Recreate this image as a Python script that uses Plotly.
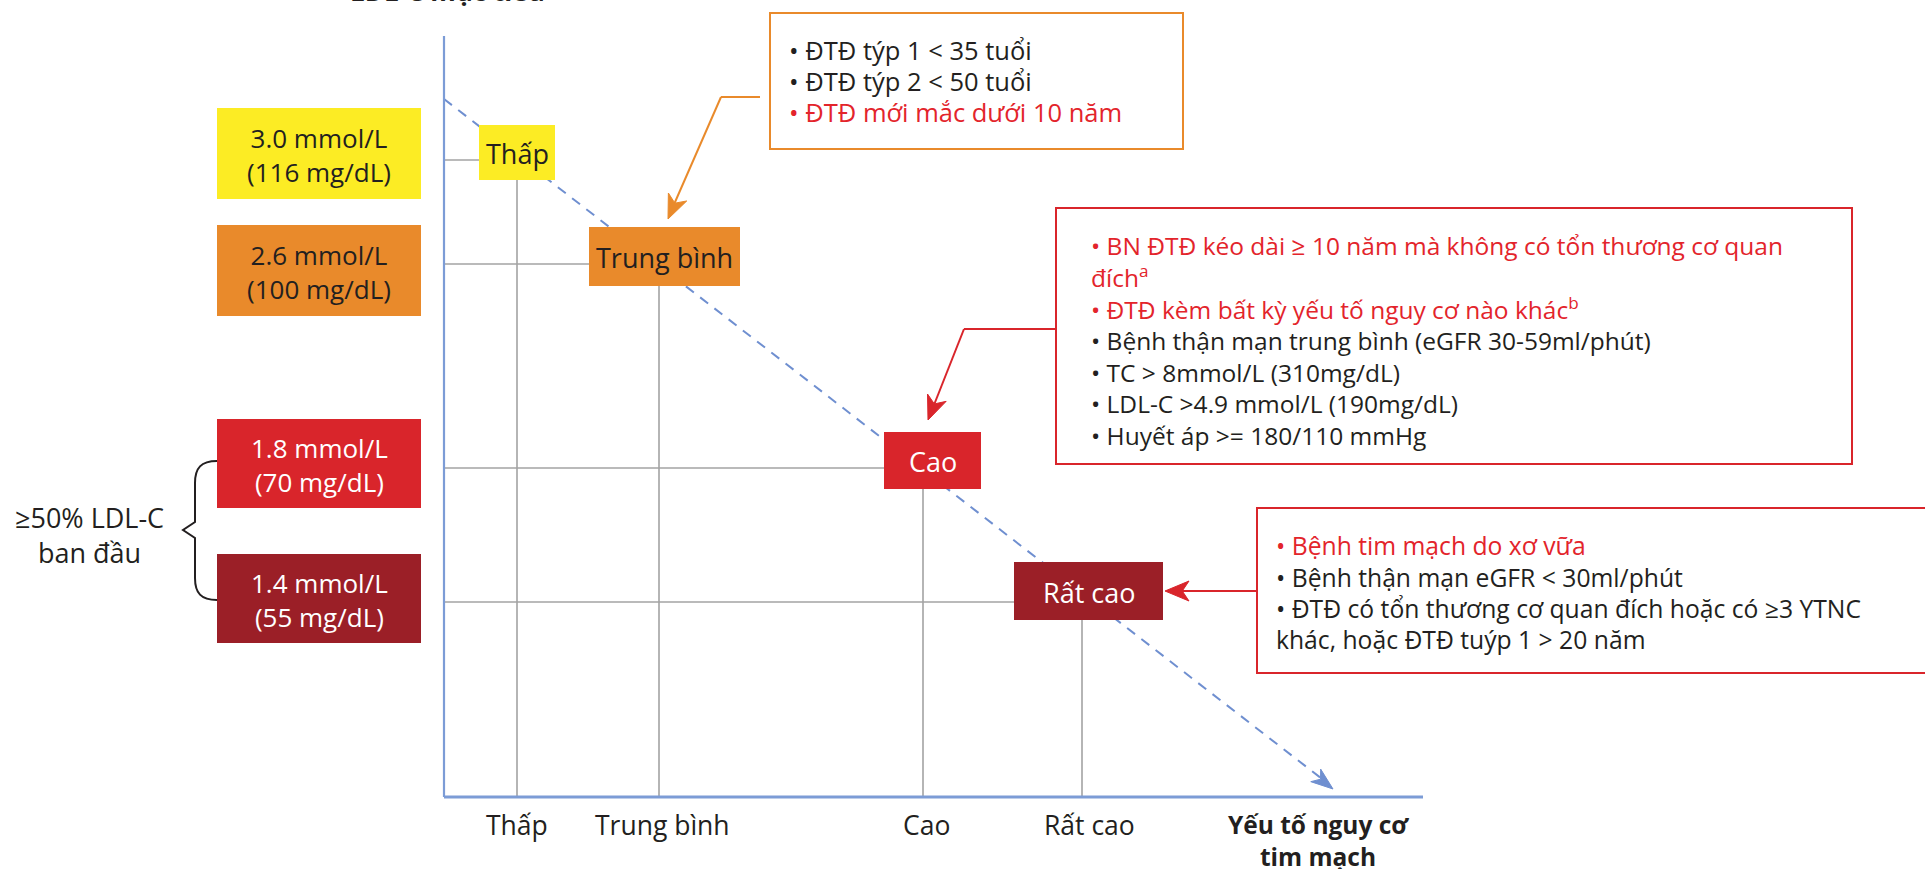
import plotly.graph_objects as go

# ---------------- data ----------------
risk_levels = ["Thấp", "Trung bình", "Cao", "Rất cao"]
ldl_mmol = [3.0, 2.6, 1.8, 1.4]
ldl_mgdl = [116, 100, 70, 55]
axis_title_y = "LDL-C mục tiêu"
axis_title_x = ["Yếu tố nguy cơ", "tim mạch"]
brace_label = ["≥50% LDL-C", "ban đầu"]

box_low_lines = ["• ĐTĐ týp 1 < 35 tuổi", "• ĐTĐ týp 2 < 50 tuổi", "• ĐTĐ mới mắc dưới 10 năm"]
box_low_red = [False, False, True]
box_high_lines = ["• BN ĐTĐ kéo dài ≥ 10 năm mà không có tổn thương cơ quan",
                  "đích<sup>a</sup>",
                  "• ĐTĐ kèm bất kỳ yếu tố nguy cơ nào khác<sup>b</sup>",
                  "• Bệnh thận mạn trung bình (eGFR 30-59ml/phút)",
                  "• TC > 8mmol/L (310mg/dL)",
                  "• LDL-C >4.9 mmol/L (190mg/dL)",
                  "• Huyết áp >= 180/110 mmHg"]
box_high_red = [True, True, True, False, False, False, False]
box_vhigh_lines = ["• Bệnh tim mạch do xơ vữa",
                   "• Bệnh thận mạn eGFR < 30ml/phút",
                   "• ĐTĐ có tổn thương cơ quan đích hoặc có ≥3 YTNC",
                   "khác, hoặc ĐTĐ tuýp 1 > 20 năm"]
box_vhigh_red = [True, False, False, False]

# ---------------- styles / layout ----------------
W, H = 1925, 869
FONT = "Open Sans"
DARK = "#231F20"
REDTXT = "#E3242B"
level_colors = ["#FCEC24", "#E98A2B", "#D9252B", "#9B1F27"]
level_text_colors = [DARK, DARK, "white", "white"]
AXIS_COL = "#7C9CD6"
GRID_COL = "#A3A3A3"
ORANGE = "#E98A2B"
RED = "#D9252B"

Y_AXIS_X, AXIS_TOP, X_AXIS_Y, X_AXIS_END = 444, 36, 797, 1423
risk_x = [517, 659, 923, 1082]          # vertical guide positions
level_y = [160, 264, 468, 602]          # horizontal guide positions
cat_boxes = [(479, 555, 125, 180), (589, 740, 227, 286), (884, 981, 432, 489), (1014, 1163, 562, 620)]
left_box_x = (217, 421)
left_box_y = [(108, 199), (225, 316), (419, 508), (554, 643)]
tick_label_x = [517, 662, 926, 1089]

shapes = []
ann = []


def line(x0, y0, x1, y1, color, width, dash=None):
    d = dict(type="line", xref="x", yref="y", x0=x0, y0=y0, x1=x1, y1=y1,
             line=dict(color=color, width=width))
    if dash:
        d["line"]["dash"] = dash
    shapes.append(d)


def rect(x0, x1, y0, y1, fill, border=None, bw=0):
    shapes.append(dict(type="rect", xref="x", yref="y", x0=x0, x1=x1, y0=y0, y1=y1,
                       fillcolor=fill, line=dict(color=border or fill, width=bw if border else 0)))


def arrowhead(fx, fy, tx, ty, color, L=20, Wd=8):
    dx, dy = tx - fx, ty - fy
    n = (dx * dx + dy * dy) ** 0.5
    ux, uy = dx / n, dy / n
    px, py = -uy, ux
    bx, by = tx - ux * L, ty - uy * L
    nx, ny = tx - ux * L * 0.72, ty - uy * L * 0.72
    path = (f"M {tx},{ty} L {bx + px * Wd},{by + py * Wd} L {nx},{ny} "
            f"L {bx - px * Wd},{by - py * Wd} Z")
    shapes.append(dict(type="path", xref="x", yref="y", path=path, fillcolor=color,
                       line=dict(color=color, width=1)))


def text(x, y, s, size, color=DARK, xanchor="center", bold=False):
    ann.append(dict(x=x, y=y, xref="x", yref="y", text=f"<b>{s}</b>" if bold else s,
                    showarrow=False, xanchor=xanchor, yanchor="middle",
                    font=dict(family=FONT, size=size, color=color)))


# guide lines
for i in range(len(risk_levels)):
    bx0, bx1, by0, by1 = cat_boxes[i]
    line(Y_AXIS_X, level_y[i], bx0, level_y[i], GRID_COL, 1.6)
    line(risk_x[i], by1, risk_x[i], X_AXIS_Y, GRID_COL, 1.6)

# dashed trend line
line(Y_AXIS_X, 99, 1326, 782, "#6F8FD0", 2, dash="10px,8px")
arrowhead(1300, 763, 1333, 789, "#6F8FD0", L=22, Wd=8)

# axes
line(Y_AXIS_X, AXIS_TOP, Y_AXIS_X, X_AXIS_Y, AXIS_COL, 2.2)
line(Y_AXIS_X, X_AXIS_Y, X_AXIS_END, X_AXIS_Y, AXIS_COL, 3)

# category boxes
for i, name in enumerate(risk_levels):
    bx0, bx1, by0, by1 = cat_boxes[i]
    rect(bx0, bx1, by0, by1, level_colors[i])
    text((bx0 + bx1) / 2, (by0 + by1) / 2 + 1, name, 27, level_text_colors[i])
    text(tick_label_x[i], 825, name, 26.5, DARK)

# left target boxes
for i in range(len(ldl_mmol)):
    y0, y1 = left_box_y[i]
    rect(left_box_x[0], left_box_x[1], y0, y1, level_colors[i])
    cy = (y0 + y1) / 2
    cx = (left_box_x[0] + left_box_x[1]) / 2
    text(cx, cy + 1, f"{ldl_mmol[i]:.1f} mmol/L<br>({ldl_mgdl[i]} mg/dL)", 26, level_text_colors[i])

# brace
shapes.append(dict(type="path", xref="x", yref="y",
                   path="M 217,461 C 201,461 195,468 195,483 L 195,522 L 183,530 L 195,538 "
                        "L 195,578 C 195,593 201,600 217,600",
                   line=dict(color=DARK, width=2)))
text(89, 535, f"{brace_label[0]}<br>{brace_label[1]}", 27)

# axis titles
ann.append(dict(x=447, y=1 + 9 / H, xref="x", yref="paper", text=f"<b>{axis_title_y}</b>",
                showarrow=False, xanchor="center", yanchor="middle",
                font=dict(family=FONT, size=26, color=DARK)))
text(1318, 840, f"<b>{axis_title_x[0]}<br>{axis_title_x[1]}</b>", 24.5)

# orange callout (low / moderate)
rect(770, 1183, 13, 149, "rgba(0,0,0,0)", ORANGE, 2)
line(760, 97, 721, 97, ORANGE, 2)
line(721, 97, 672, 209, ORANGE, 2)
arrowhead(721, 97, 668, 219, ORANGE, L=24, Wd=10)
for j, s in enumerate(box_low_lines):
    text(787, [50, 81, 112][j], s, 25.5, REDTXT if box_low_red[j] else DARK, xanchor="left")

# red callout (high)
rect(1056, 1852, 208, 464, "rgba(0,0,0,0)", RED, 2)
line(1056, 329, 964, 329, RED, 2)
line(964, 329, 932, 410, RED, 2)
arrowhead(964, 329, 928, 420, RED, L=24, Wd=10)
for j, s in enumerate(box_high_lines):
    text(1089, [245, 276, 308, 340, 372, 403, 435][j], s, 24.5,
         REDTXT if box_high_red[j] else DARK, xanchor="left")

# red callout (very high)
rect(1257, 1935, 508, 673, "rgba(0,0,0,0)", RED, 2)
line(1257, 591, 1180, 591, RED, 2)
arrowhead(1257, 591, 1165, 591, RED, L=24, Wd=10)
for j, s in enumerate(box_vhigh_lines):
    text(1274, [545, 577, 608, 639][j], s, 24.7,
         REDTXT if box_vhigh_red[j] else DARK, xanchor="left")

fig = go.Figure()
fig.update_layout(
    width=W, height=H, margin=dict(l=0, r=0, t=0, b=0),
    paper_bgcolor="white", plot_bgcolor="white",
    xaxis=dict(range=[0, W], visible=False, fixedrange=True),
    yaxis=dict(range=[H, 0], visible=False, fixedrange=True),
    shapes=shapes, annotations=ann, showlegend=False,
)
fig.write_html("out.html", config={"displayModeBar": False},
               post_script="document.body.style.margin='0';document.body.style.overflow='hidden';")
